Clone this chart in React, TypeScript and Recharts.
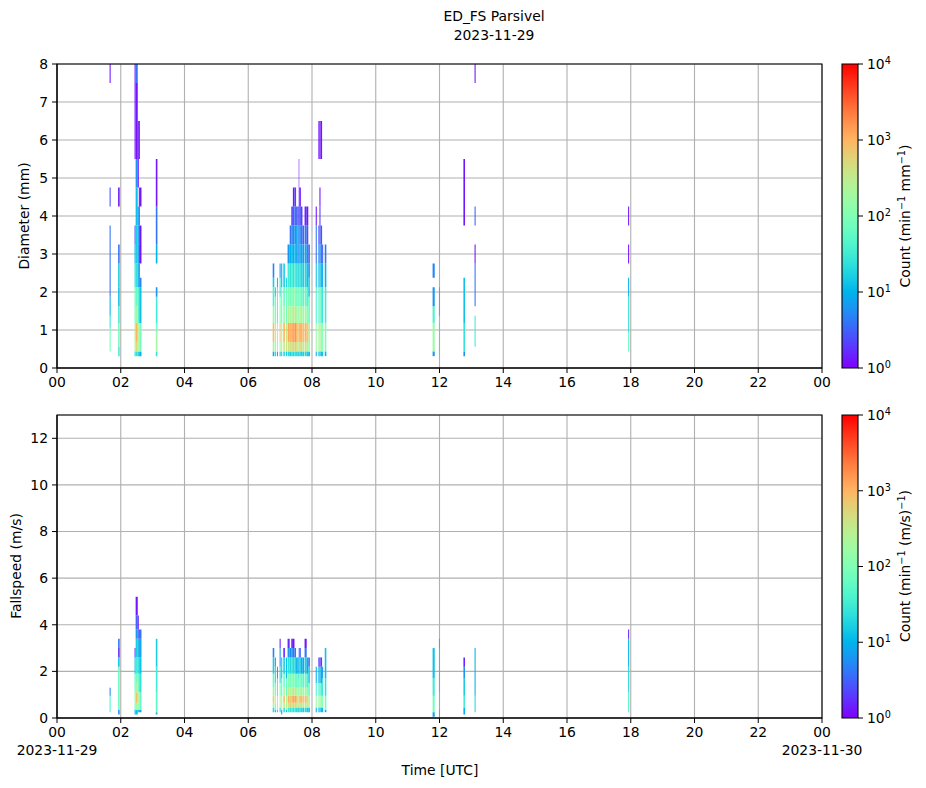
import React from "react"
import { CartesianGrid, ComposedChart, ReferenceArea, XAxis, YAxis } from "recharts"

const FONT = "DejaVu Sans, sans-serif"
const FS = 13.9

const hourTicks = [0, 2, 4, 6, 8, 10, 12, 14, 16, 18, 20, 22, 24]
const diameterTicks = [0, 1, 2, 3, 4, 5, 6, 7, 8]
const speedTicks = [0, 2, 4, 6, 8, 10, 12]
const countTicks = [1, 10, 100, 1000, 10000]
const dateLabels = ["2023-11-29", "2023-11-30"]

// Parsivel class centres (used as cell edges by the plot)
const diameterBins = [0.062, 0.187, 0.312, 0.437, 0.562, 0.687, 0.812, 0.937, 1.062, 1.187, 1.375, 1.625, 1.875, 2.125, 2.375, 2.75, 3.25, 3.75, 4.25, 4.75, 5.5, 6.5, 7.5, 8.5]
const speedBins = [0.05, 0.15, 0.25, 0.35, 0.45, 0.55, 0.65, 0.75, 0.85, 0.95, 1.1, 1.3, 1.5, 1.7, 1.9, 2.2, 2.6, 3.0, 3.4, 3.8, 4.4, 5.2, 6.0]

type Seg = [number, number, number] // first bin, last bin, log10 count
type Col = [number, number, Seg[]] // start minute, width in minutes, segments

const diameterCols: Col[] = [
  [99, 2, [[3, 7, 1.9], [8, 9, 1.4], [10, 11, 1.0], [12, 16, 0.6], [18, 18, 0.4], [22, 22, 0.1]]],
  [115, 3, [[2, 3, 1.5], [4, 8, 1.9], [9, 10, 1.5], [11, 12, 1.1], [13, 14, 1.2], [15, 15, 0.6], [18, 18, 0.1]]],
  [146, 2, [[2, 2, 1.3], [3, 8, 2.5], [9, 12, 1.8], [13, 14, 1.3], [15, 15, 1.0], [16, 16, 0.4], [20, 22, 0.1]]],
  [148, 4, [[2, 2, 1.4], [3, 4, 2.7], [5, 8, 3.0], [9, 10, 2.3], [11, 12, 1.8], [13, 14, 1.4], [15, 16, 1.2], [17, 18, 1.1], [19, 19, 0.8], [20, 21, 0.1], [22, 22, 0.6]]],
  [152, 2, [[2, 2, 1.2], [3, 8, 2.4], [9, 12, 1.6], [13, 14, 0.9], [15, 16, 1.0], [17, 17, 0.8], [19, 20, 0.1]]],
  [154, 2, [[2, 2, 1.1], [3, 8, 2.2], [9, 12, 1.3], [13, 14, 0.8], [15, 15, 0.2], [16, 16, 0.3], [17, 17, 0.6], [18, 18, 0.1], [20, 20, 0.1]]],
  [156, 3, [[2, 2, 1.0], [3, 8, 1.9], [9, 12, 1.1], [13, 13, 0.7], [15, 16, 0.1], [18, 18, 0.1]]],
  [186, 3, [[2, 2, 1.4], [3, 6, 2.3], [7, 8, 1.9], [9, 11, 1.5], [12, 12, 0.8], [15, 15, 1.0], [16, 17, 0.6], [18, 19, 0.1]]],
  [406, 3, [[2, 2, 1.0], [3, 4, 2.3], [5, 8, 2.9], [9, 10, 2.2], [11, 12, 1.6], [13, 13, 1.2], [14, 14, 0.7]]],
  [410, 2, [[2, 2, 1.2], [3, 4, 2.0], [5, 8, 2.6], [9, 11, 1.8], [12, 12, 1.2]]],
  [414, 2, [[2, 2, 1.0], [3, 8, 2.3], [9, 12, 1.7], [13, 13, 1.1]]],
  [419, 2, [[2, 2, 1.1], [3, 4, 2.3], [5, 8, 2.8], [9, 11, 2.0], [12, 13, 1.4], [14, 14, 0.8]]],
  [422, 2, [[2, 2, 1.2], [3, 8, 2.5], [9, 12, 1.8], [13, 14, 1.0]]],
  [426, 3, [[2, 2, 1.3], [3, 4, 2.5], [5, 8, 3.0], [9, 10, 2.3], [11, 12, 1.8], [13, 14, 1.2]]],
  [431, 2, [[2, 2, 1.2], [3, 8, 2.6], [9, 12, 1.9], [13, 13, 1.3]]],
  [434, 4, [[2, 2, 1.3], [3, 4, 2.6], [5, 8, 3.1], [9, 10, 2.4], [11, 12, 2.0], [13, 14, 1.5], [15, 15, 0.8]]],
  [438, 3, [[2, 2, 1.2], [3, 4, 2.6], [5, 8, 3.0], [9, 10, 2.3], [11, 12, 1.9], [13, 14, 1.4], [15, 15, 1.0], [16, 16, 0.6]]],
  [441, 3, [[2, 2, 1.4], [3, 4, 2.7], [5, 8, 3.1], [9, 10, 2.4], [11, 12, 2.0], [13, 14, 1.5], [15, 15, 1.0], [16, 16, 0.7], [17, 17, 0.3]]],
  [444, 3, [[2, 2, 1.3], [3, 4, 2.7], [5, 8, 3.1], [9, 10, 2.5], [11, 12, 2.0], [13, 14, 1.4], [15, 15, 1.0], [16, 16, 0.7], [17, 17, 0.5], [18, 18, 0.1]]],
  [447, 3, [[2, 2, 1.4], [3, 4, 2.8], [5, 8, 3.2], [9, 10, 2.5], [11, 12, 2.1], [13, 14, 1.6], [15, 15, 1.1], [16, 16, 0.8], [17, 17, 0.6], [18, 18, 0.3]]],
  [450, 3, [[2, 2, 1.3], [3, 4, 2.6], [5, 8, 3.0], [9, 10, 2.3], [11, 12, 1.9], [13, 14, 1.4], [15, 16, 0.9], [17, 17, 0.5]]],
  [453, 2, [[2, 2, 1.2], [3, 4, 2.5], [5, 8, 3.0], [9, 10, 2.3], [11, 12, 1.8], [13, 14, 1.3], [15, 16, 0.8], [17, 17, 0.4]]],
  [455, 1, [[2, 2, 1.0], [3, 8, 2.6], [9, 12, 1.8], [13, 14, 1.1], [15, 16, 0.6], [17, 18, 0.3], [19, 19, 0.1]]],
  [456, 3, [[2, 2, 1.3], [3, 4, 2.7], [5, 8, 3.1], [9, 10, 2.4], [11, 12, 1.9], [13, 14, 1.4], [15, 15, 1.0], [16, 16, 0.7], [17, 17, 0.4], [18, 18, 0.1]]],
  [459, 3, [[2, 2, 1.2], [3, 4, 2.6], [5, 8, 3.0], [9, 10, 2.3], [11, 12, 1.8], [13, 14, 1.3], [15, 15, 0.9], [16, 16, 0.6], [17, 17, 0.3]]],
  [462, 3, [[2, 2, 1.2], [3, 4, 2.5], [5, 8, 2.9], [9, 10, 2.2], [11, 12, 1.7], [13, 14, 1.2], [15, 15, 0.8], [16, 16, 0.5]]],
  [466, 4, [[2, 2, 1.3], [3, 4, 2.6], [5, 8, 3.0], [9, 10, 2.3], [11, 12, 1.8], [13, 14, 1.3], [15, 15, 0.9], [16, 16, 0.6], [17, 17, 0.2]]],
  [470, 3, [[2, 2, 1.2], [3, 4, 2.4], [5, 8, 2.8], [9, 10, 2.1], [11, 12, 1.6], [13, 14, 1.1], [15, 15, 0.7], [16, 16, 0.4], [17, 17, 0.1]]],
  [473, 3, [[2, 2, 1.0], [3, 4, 2.2], [5, 8, 2.6], [9, 11, 1.8], [12, 13, 1.2], [14, 14, 0.8], [15, 15, 0.5]]],
  [487, 2, [[2, 2, 1.0], [3, 8, 2.2], [9, 12, 1.6], [13, 14, 1.1], [15, 16, 0.6], [17, 17, 0.1]]],
  [492, 2, [[2, 2, 1.1], [3, 8, 2.3], [9, 12, 1.7], [13, 14, 1.1], [15, 15, 0.7], [16, 16, 0.4], [20, 20, 0.1]]],
  [494, 2, [[2, 2, 1.2], [3, 8, 2.4], [9, 12, 1.8], [13, 14, 1.2], [15, 15, 0.8], [16, 16, 0.5], [17, 17, 0.3], [18, 18, 0.1], [20, 20, 0.1]]],
  [496, 3, [[2, 2, 1.1], [3, 8, 2.3], [9, 12, 1.7], [13, 14, 1.1], [15, 15, 0.7], [16, 16, 0.4], [20, 20, 0.1]]],
  [499, 2, [[2, 2, 1.0], [3, 8, 2.0], [9, 12, 1.4], [13, 14, 0.9], [15, 15, 0.5]]],
  [504, 3, [[2, 2, 1.0], [3, 8, 2.0], [9, 12, 1.5], [13, 14, 1.0], [15, 15, 0.6]]],
  [707, 4, [[2, 2, 0.8], [3, 8, 2.2], [9, 10, 1.6], [11, 12, 0.8], [14, 14, 0.7]]],
  [719, 1, [[2, 8, 1.3], [10, 12, 0.7]]],
  [765, 3, [[2, 2, 0.8], [3, 8, 1.4], [9, 13, 1.1], [17, 19, 0.1]]],
  [786, 2, [[4, 9, 1.5], [11, 14, 0.6], [15, 15, 0.1], [17, 17, 0.5], [22, 22, 0.1]]],
  [1075, 2, [[3, 6, 1.8], [7, 11, 1.4], [12, 13, 1.0], [15, 15, 0.1], [17, 17, 0.1]]],
]

const speedCols: Col[] = [
  [99, 2, [[2, 8, 1.6], [9, 10, 0.7]]],
  [115, 3, [[1, 2, 0.8], [3, 14, 1.8], [15, 15, 1.1], [16, 16, 0.2], [17, 17, 0.6]]],
  [146, 2, [[1, 2, 1.0], [3, 5, 1.8], [6, 9, 2.2], [10, 13, 1.7], [14, 15, 1.1], [16, 16, 0.2]]],
  [148, 4, [[1, 2, 1.1], [3, 5, 2.3], [6, 9, 2.9], [10, 11, 2.4], [12, 13, 1.9], [14, 15, 1.5], [16, 17, 1.2], [18, 18, 0.8], [19, 19, 0.5], [20, 20, 0.1]]],
  [152, 2, [[2, 2, 1.0], [3, 5, 2.1], [6, 9, 2.5], [10, 13, 1.8], [14, 15, 1.3], [16, 17, 1.0], [18, 18, 0.5], [19, 19, 0.2]]],
  [154, 2, [[2, 2, 1.0], [3, 9, 2.0], [10, 13, 1.5], [14, 15, 1.2], [16, 17, 0.8], [18, 18, 0.3]]],
  [156, 3, [[2, 2, 0.9], [3, 9, 1.8], [10, 13, 1.4], [14, 15, 1.1], [16, 17, 0.9], [18, 18, 0.6]]],
  [186, 3, [[1, 1, 0.9], [2, 9, 1.7], [10, 14, 1.5], [15, 17, 1.2]]],
  [406, 3, [[2, 3, 1.3], [4, 5, 2.2], [6, 8, 2.8], [9, 10, 2.3], [11, 13, 1.8], [14, 15, 1.2], [16, 16, 0.7]]],
  [410, 2, [[2, 2, 1.0], [3, 5, 1.9], [6, 8, 2.4], [9, 11, 1.8], [12, 14, 1.3], [15, 15, 0.8]]],
  [414, 2, [[2, 2, 1.2], [3, 8, 2.2], [9, 12, 1.6], [13, 14, 1.0]]],
  [419, 2, [[2, 3, 1.2], [4, 8, 2.4], [9, 11, 1.9], [12, 14, 1.3], [15, 16, 0.8], [17, 17, 0.1]]],
  [422, 2, [[1, 2, 0.9], [3, 8, 2.3], [9, 12, 1.7], [13, 15, 1.1]]],
  [426, 3, [[2, 3, 1.4], [4, 5, 2.4], [6, 8, 2.9], [9, 10, 2.4], [11, 13, 1.9], [14, 15, 1.2], [16, 16, 0.2]]],
  [431, 2, [[2, 2, 1.1], [3, 8, 2.4], [9, 12, 1.8], [13, 15, 1.1]]],
  [434, 4, [[2, 3, 1.5], [4, 5, 2.6], [6, 8, 3.0], [9, 10, 2.5], [11, 13, 2.0], [14, 15, 1.4], [16, 16, 0.8], [17, 17, 0.2]]],
  [438, 3, [[2, 3, 1.4], [4, 8, 2.8], [9, 10, 2.3], [11, 13, 1.9], [14, 15, 1.3], [16, 16, 0.7]]],
  [441, 3, [[2, 3, 1.5], [4, 5, 2.6], [6, 8, 3.0], [9, 10, 2.5], [11, 13, 2.0], [14, 15, 1.4], [16, 16, 0.8], [17, 17, 0.1]]],
  [444, 3, [[2, 3, 1.4], [4, 5, 2.7], [6, 8, 3.1], [9, 10, 2.6], [11, 13, 2.0], [14, 15, 1.3], [16, 16, 0.6], [17, 17, 0.1]]],
  [447, 3, [[2, 3, 1.5], [4, 5, 2.7], [6, 8, 3.1], [9, 10, 2.5], [11, 13, 1.9], [14, 15, 1.3], [16, 16, 0.6]]],
  [450, 3, [[2, 3, 1.3], [4, 5, 2.5], [6, 8, 2.9], [9, 10, 2.3], [11, 13, 1.8], [14, 15, 1.0]]],
  [453, 2, [[2, 3, 1.2], [4, 8, 2.7], [9, 10, 2.2], [11, 13, 1.7], [14, 15, 0.9]]],
  [455, 1, [[2, 3, 1.0], [4, 8, 2.4], [9, 12, 1.8], [13, 15, 1.1], [16, 16, 0.4]]],
  [456, 3, [[2, 3, 1.4], [4, 5, 2.6], [6, 8, 3.0], [9, 10, 2.4], [11, 13, 1.9], [14, 15, 1.2], [16, 16, 0.5]]],
  [459, 3, [[2, 3, 1.3], [4, 5, 2.5], [6, 8, 2.9], [9, 10, 2.3], [11, 13, 1.8], [14, 15, 1.0]]],
  [462, 3, [[2, 3, 1.2], [4, 5, 2.4], [6, 8, 2.8], [9, 10, 2.2], [11, 13, 1.7], [14, 15, 0.9]]],
  [466, 4, [[2, 3, 1.3], [4, 5, 2.5], [6, 8, 2.9], [9, 10, 2.3], [11, 13, 1.8], [14, 15, 1.2], [16, 16, 0.6], [17, 17, 0.1]]],
  [470, 3, [[2, 3, 1.2], [4, 5, 2.3], [6, 8, 2.7], [9, 10, 2.1], [11, 13, 1.6], [14, 15, 0.9]]],
  [473, 3, [[2, 3, 1.1], [4, 8, 2.4], [9, 11, 1.8], [12, 14, 1.2], [15, 15, 0.6]]],
  [487, 2, [[2, 3, 1.0], [4, 8, 2.2], [9, 11, 1.6], [12, 14, 1.0]]],
  [492, 2, [[2, 3, 1.1], [4, 8, 2.2], [9, 11, 1.6], [12, 14, 1.0], [15, 15, 0.3]]],
  [494, 2, [[2, 3, 1.2], [4, 8, 2.3], [9, 11, 1.7], [12, 14, 1.1], [15, 15, 0.2]]],
  [496, 3, [[2, 3, 1.1], [4, 8, 2.2], [9, 11, 1.6], [12, 14, 1.0], [15, 15, 0.3]]],
  [499, 2, [[2, 3, 1.0], [4, 8, 2.0], [9, 12, 1.4], [13, 14, 0.8]]],
  [504, 3, [[2, 2, 1.0], [3, 8, 1.9], [9, 12, 1.4], [13, 16, 1.1]]],
  [707, 4, [[0, 1, 0.9], [2, 8, 1.9], [9, 12, 1.5], [13, 16, 1.1]]],
  [719, 1, [[0, 2, 0.8], [3, 9, 1.2], [10, 16, 1.0], [17, 17, 0.6]]],
  [765, 3, [[1, 3, 1.0], [4, 8, 1.5], [9, 12, 1.2], [13, 14, 0.8], [15, 15, 0.2]]],
  [786, 2, [[2, 8, 1.3], [9, 16, 1.0]]],
  [1075, 2, [[2, 9, 1.6], [10, 14, 1.3], [15, 17, 1.0], [18, 18, 0.2]]],
]

// matplotlib "rainbow" colormap
function rainbow(t: number) {
  const u = Math.min(1, Math.max(0, t))
  const r = Math.min(1, Math.abs(2 * u - 0.5))
  const g = Math.sin(Math.PI * u)
  const b = Math.cos((Math.PI * u) / 2)
  return `rgb(${Math.round(r * 255)},${Math.round(g * 255)},${Math.round(b * 255)})`
}

const fmtHour = (h: number) => String(h % 24).padStart(2, "0")

function toCells(cols: Col[], bins: number[]) {
  return cols.flatMap(([t, w, segs]) =>
    segs.map(([a, b, c]) => ({ x1: t / 60, x2: (t + w) / 60, y1: bins[a], y2: bins[b + 1], c }))
  )
}

function DateTick(props: any) {
  const { x, y, payload } = props
  const h = payload.value
  const date = h === 0 ? dateLabels[0] : h === 24 ? dateLabels[1] : null
  return (
    <text x={x} y={y} textAnchor="middle" fill="#000" fontSize={FS} fontFamily={FONT}>
      <tspan x={x} dy="0.71em">{fmtHour(h)}</tspan>
      {date && <tspan x={x} dy="1.3em">{date}</tspan>}
    </text>
  )
}

// colorbar axis runs over log10(count); label as 10^e
function PowTick(props: any) {
  const { x, y, payload } = props
  const e = Math.round(payload.value)
  return (
    <text x={x} y={y} dy="0.35em" fill="#000" fontSize={FS} fontFamily={FONT} textAnchor="start">
      10<tspan dy="-0.5em" fontSize={9.7}>{e}</tspan>
    </text>
  )
}

const tickStyle = { fill: "#000", fontSize: FS, fontFamily: FONT }

function Panel(props: {
  top: number; height: number; plotTop: number; axisH: number
  cols: Col[]; bins: number[]; yMax: number; yTicks: number[]; dates?: boolean
}) {
  const { top, height, plotTop, axisH, cols, bins, yMax, yTicks, dates } = props
  const cells = toCells(cols, bins)
  return (
    <div style={{ position: "absolute", left: 0, top, width: 926, height }}>
      <ComposedChart width={926} height={height} margin={{ top: plotTop, right: 104, bottom: 0, left: 0 }}>
        <XAxis
          type="number"
          dataKey="x"
          domain={[0, 24]}
          ticks={hourTicks}
          interval={0}
          allowDataOverflow
          height={axisH}
          tickSize={5}
          tickMargin={4}
          stroke="#000"
          tick={dates ? <DateTick /> : tickStyle}
          tickFormatter={fmtHour}
        />
        <YAxis
          type="number"
          domain={[0, yMax]}
          ticks={yTicks}
          interval={0}
          allowDataOverflow
          width={57}
          tickSize={5}
          tickMargin={4}
          stroke="#000"
          tick={tickStyle}
        />
        {cells.map((d, i) => (
          <ReferenceArea
            key={i}
            x1={d.x1}
            x2={d.x2}
            y1={d.y1}
            y2={d.y2}
            fill={rainbow(d.c / 4)}
            fillOpacity={1}
            stroke="none"
            ifOverflow="hidden"
          />
        ))}
        <CartesianGrid stroke="#b0b0b0" strokeWidth={1.1} />
        <ReferenceArea x1={0} x2={24} y1={0} y2={yMax} fill="none" stroke="#000" strokeWidth={1.1} ifOverflow="visible" />
      </ComposedChart>
    </div>
  )
}

function Colorbar(props: { id: string; top: number; height: number; plotTop: number; plotBottom: number }) {
  const { id, top, height, plotTop, plotBottom } = props
  const stops = Array.from({ length: 21 }, (_, k) => k / 20)
  const expTicks = countTicks.map((v) => Math.log10(v))
  const eMax = expTicks[expTicks.length - 1]
  return (
    <div style={{ position: "absolute", left: 837, top, width: 89, height }}>
      <ComposedChart width={89} height={height} margin={{ top: plotTop, right: 0, bottom: plotBottom, left: 5 }}>
        <defs>
          <linearGradient id={id} x1="0" y1="1" x2="0" y2="0">
            {stops.map((s) => (
              <stop key={s} offset={`${s * 100}%`} stopColor={rainbow(s)} />
            ))}
          </linearGradient>
        </defs>
        <XAxis type="number" dataKey="x" domain={[0, 1]} ticks={[0, 1]} allowDataOverflow height={0} tick={false} tickLine={false} axisLine={false} />
        <YAxis
          orientation="right"
          type="number"
          domain={[0, eMax]}
          ticks={expTicks}
          interval={0}
          allowDataOverflow
          width={68}
          tickSize={5}
          tickMargin={4}
          stroke="#000"
          axisLine={false}
          tick={<PowTick />}
        />
        <ReferenceArea x1={0} x2={1} y1={0} y2={eMax} fill={`url(#${id})`} fillOpacity={1} stroke="#000" strokeWidth={1.1} ifOverflow="visible" />
      </ComposedChart>
    </div>
  )
}

const rot = (left: number, top: number): React.CSSProperties => ({
  position: "absolute", left, top, transform: "translate(-50%,-50%) rotate(-90deg)",
  whiteSpace: "nowrap", fontSize: FS, lineHeight: 1,
})
const center = (left: number, top: number, size = FS): React.CSSProperties => ({
  position: "absolute", left, top, transform: "translate(-50%,-50%)",
  whiteSpace: "nowrap", fontSize: size, lineHeight: 1,
})
const sup: React.CSSProperties = { fontSize: 9.7, verticalAlign: "0.5em", lineHeight: 0 }

export default function App() {
  return (
    <div style={{ position: "absolute", left: 0, top: 0, width: 926, height: 788, background: "#fff", fontFamily: FONT, color: "#000" }}>
      <div style={center(494, 17)}>ED_FS Parsivel</div>
      <div style={center(494, 36)}>2023-11-29</div>

      <Panel top={0} height={400} plotTop={64} axisH={32} cols={diameterCols} bins={diameterBins} yMax={8} yTicks={diameterTicks} />
      <Panel top={380} height={380} plotTop={35} axisH={42} cols={speedCols} bins={speedBins} yMax={13} yTicks={speedTicks} dates />

      <Colorbar id="cmapTop" top={0} height={400} plotTop={64} plotBottom={32} />
      <Colorbar id="cmapBottom" top={380} height={380} plotTop={35} plotBottom={42} />

      <div style={rot(25, 216)}>Diameter (mm)</div>
      <div style={rot(17, 566)}>Fallspeed (m/s)</div>
      <div style={rot(906, 216)}>
        Count (min<span style={sup}>−1</span> mm<span style={sup}>−1</span>)
      </div>
      <div style={rot(906, 566)}>
        Count (min<span style={sup}>−1</span> (m/s)<span style={sup}>−1</span>)
      </div>
      <div style={center(440, 771)}>Time [UTC]</div>
    </div>
  )
}
